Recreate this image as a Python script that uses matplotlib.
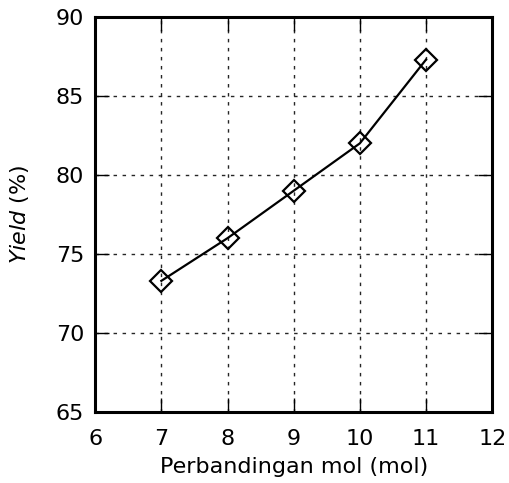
import matplotlib
matplotlib.use("Agg")
import matplotlib.pyplot as plt

# rasio mol vs yield
rasio_mol = [7, 8, 9, 10, 11]
yield_persen = [73.3, 76.0, 79.0, 82.0, 87.3]

x_ticks = [6, 7, 8, 9, 10, 11, 12]
y_ticks = [65, 70, 75, 80, 85, 90]

plt.rcParams["font.family"] = "DejaVu Sans"
plt.rcParams["mathtext.fontset"] = "dejavusans"

fig = plt.figure(figsize=(5.09, 4.83), dpi=100)
ax = fig.add_axes([0.187, 0.147, 0.780, 0.818])

ax.plot(rasio_mol, yield_persen, color="black", linewidth=1.6,
        marker="D", markersize=11.5, markerfacecolor="none",
        markeredgecolor="black", markeredgewidth=1.6)

ax.set_xlim(6, 12)
ax.set_ylim(65, 90)
ax.set_xticks(x_ticks)
ax.set_yticks(y_ticks)
ax.grid(True, color="0.15", linestyle=(0, (2.5, 4)), linewidth=1.0)

for s in ax.spines.values():
    s.set_linewidth(2.2)
ax.tick_params(direction="in", length=10, width=1.0, top=True, right=True,
               labelsize=16, pad=8)
ax.tick_params(axis="x", pad=12)

ax.set_xlabel("Perbandingan mol (mol)", fontsize=16, labelpad=6)
ax.set_ylabel(r"$\it{Yield}$ (%)", fontsize=16, labelpad=18)

fig.savefig("out.png", dpi=100)
